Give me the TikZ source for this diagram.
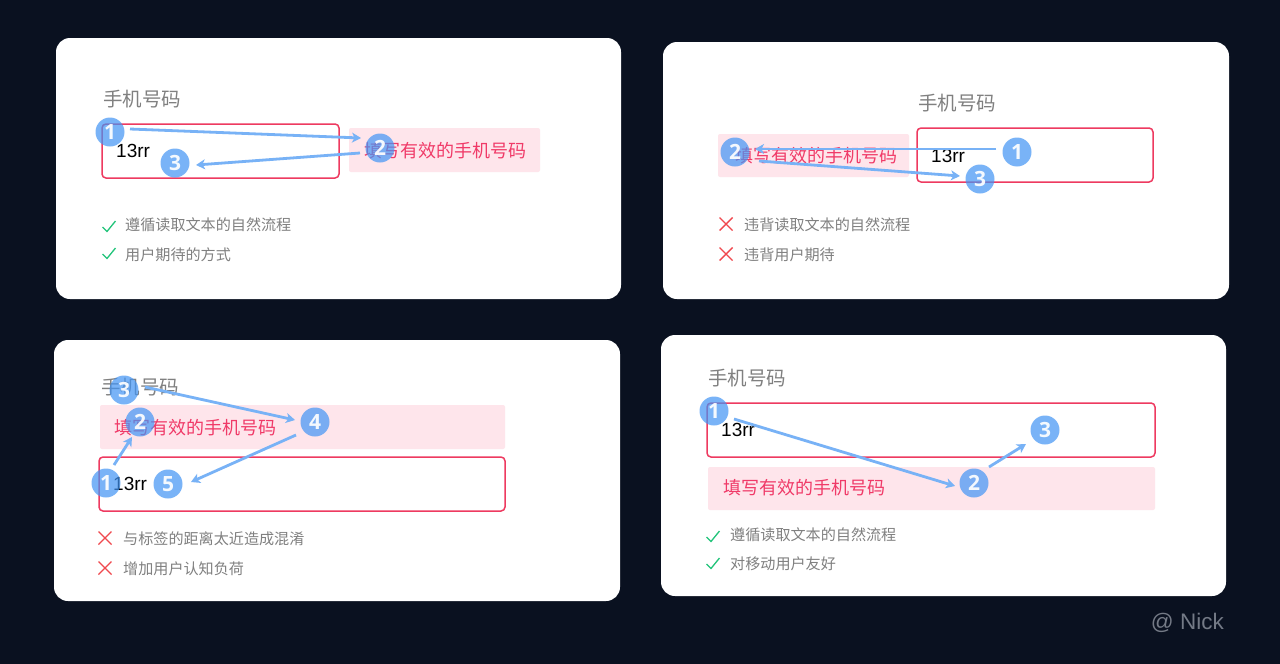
\documentclass[tikz,border=0pt]{standalone}
\usepackage{fontspec}
\usetikzlibrary{calc,arrows.meta}
\setmainfont{Noto Sans CJK SC}
\newfontfamily\latinfont{Liberation Sans}
\newfontfamily\numfont{Open Sans}
\definecolor{bgdark}{HTML}{0A1120}
\definecolor{inputred}{HTML}{EE3A60}
\definecolor{errfill}{HTML}{FEE5EB}
\definecolor{errtext}{HTML}{F03A68}
\definecolor{mutetext}{HTML}{808080}
\definecolor{markblue}{HTML}{4194F5}
\definecolor{flowblue}{HTML}{78B2F6}
\definecolor{okgreen}{HTML}{22C47A}
\definecolor{badred}{HTML}{F0484E}
\definecolor{nickgray}{HTML}{747A86}
\tikzset{
  card/.style={fill=white,rounded corners=14pt,draw=none},
  inputbox/.style={draw=inputred,line width=1.5pt,fill=white,rounded corners=4pt},
  errbox/.style={fill=errfill,rounded corners=2pt,draw=none},
  labeltext/.style={anchor=west,inner sep=0pt,text=mutetext,font=\fontsize{19.5}{20}\selectfont},
  errtxt/.style={anchor=west,inner sep=0pt,text=errtext,font=\fontsize{18}{18}\selectfont},
  valtxt/.style={anchor=west,inner sep=0pt,text=black,font=\latinfont\fontsize{19}{20}\selectfont},
  notetxt/.style={anchor=west,inner sep=0pt,text=mutetext,font=\fontsize{15.1}{15}\selectfont},
  marker/.style={circle,minimum size=29pt,inner sep=0pt,fill=markblue,fill opacity=.7,text opacity=.92,text=white,font=\numfont\bfseries\fontsize{21}{21}\selectfont},
  flow/.style={draw=flowblue,line width=2.8pt,-{Stealth[length=9pt,width=10pt,inset=2.5pt]}},
  okmark/.style={draw=okgreen,line width=1.3pt},
  badmark/.style={draw=badred,line width=1.4pt},
}
\newcommand{\okat}[1]{\draw[okmark] ($(#1)+(-6.5,1)$) -- ($(#1)+(-2,5.5)$) -- ($(#1)+(6.5,-5)$);}
\newcommand{\badat}[1]{\draw[badmark] ($(#1)+(-6.5,-6.5)$) -- ($(#1)+(6.5,6.5)$) ($(#1)+(6.5,-6.5)$) -- ($(#1)+(-6.5,6.5)$);}
\begin{document}
\begin{tikzpicture}[x=1pt,y=-1pt]
\useasboundingbox (0,0) rectangle (1280,664);
\fill[bgdark] (0,0) rectangle (1280,664);
% Panel 1
\path[card] (56,38) rectangle (621,299);
\node[labeltext] (l1) at (103,99.5) {手机号码};
\path[inputbox] (102,124) rectangle (339,178);
\path[errbox] (349,128) rectangle (540,172);
\node[valtxt] (v1) at (116,151) {13rr};
\node[errtxt] (e1) at (364,150.5) {填写有效的手机号码};
\node[marker] (a1) at (110,132) {1};
\node[marker] (a2) at (380,148) {2};
\node[marker] (a3) at (175,163) {3};
\draw[flow] ($(a1)+(20,-3)$) -- ($(a2)+(-19,-10)$);
\draw[flow] ($(a2)+(-20,5)$) -- ($(a3)+(21,2)$);
\coordinate (ck11) at (109,226); \okat{ck11}
\coordinate (ck12) at (109,253); \okat{ck12}
\node[notetxt] (n11) at (125,224.5) {遵循读取文本的自然流程};
\node[notetxt] (n12) at (125,254.5) {用户期待的方式};
% Panel 2
\path[card] (663,42) rectangle (1229,299);
\node[labeltext] (l2) at (918,103.5) {手机号码};
\path[inputbox] (917,128) rectangle (1153,182);
\path[errbox] (718,134) rectangle (909,177);
\node[valtxt] (v2) at (931,156) {13rr};
\node[errtxt] (e2) at (735,155.5) {填写有效的手机号码};
\node[marker] (b1) at (1017,152) {1};
\node[marker] (b2) at (735,152) {2};
\node[marker] (b3) at (980,179) {3};
\draw[flow] ($(b1)+(-21,-3)$) -- ($(b2)+(20,-3)$);
\draw[flow] ($(b2)+(24,9)$) -- ($(b3)+(-20,-3)$);
\coordinate (ck21) at (726,224); \badat{ck21}
\coordinate (ck22) at (726,254); \badat{ck22}
\node[notetxt] (n21) at (744,224.5) {违背读取文本的自然流程};
\node[notetxt] (n22) at (744,254.5) {违背用户期待};
% Panel 3
\path[card] (54,340) rectangle (620,601);
\node[labeltext] (l3) at (101,387.5) {手机号码};
\path[errbox] (100,405) rectangle (505,449);
\path[inputbox] (99,457) rectangle (505,511);
\node[valtxt] (v3) at (113,484) {13rr};
\node[errtxt] (e3) at (114,427.5) {填写有效的手机号码};
\node[marker] (c1) at (106,483) {1};
\node[marker] (c2) at (140,422) {2};
\node[marker] (c3) at (124,390) {3};
\node[marker] (c4) at (315,422) {4};
\node[marker] (c5) at (168,484) {5};
\draw[flow] ($(c1)+(8,-18)$) -- ($(c2)+(-8,15)$);
\draw[flow] ($(c3)+(21,-3)$) -- ($(c4)+(-20,-2)$);
\draw[flow] ($(c4)+(-19,13)$) -- ($(c5)+(23,-2)$);
\coordinate (ck31) at (105,538); \badat{ck31}
\coordinate (ck32) at (105,568); \badat{ck32}
\node[notetxt] (n31) at (123,538.5) {与标签的距离太近造成混淆};
\node[notetxt] (n32) at (123,568.5) {增加用户认知负荷};
% Panel 4
\path[card] (661,335) rectangle (1226,596);
\node[labeltext] (l4) at (708,378.5) {手机号码};
\path[inputbox] (707,403) rectangle (1155,457);
\path[errbox] (708,467) rectangle (1155,510);
\node[valtxt] (v4) at (721,430) {13rr};
\node[errtxt] (e4) at (723,487.5) {填写有效的手机号码};
\node[marker] (d1) at (714,411) {1};
\node[marker] (d2) at (974,483) {2};
\node[marker] (d3) at (1045,430) {3};
\draw[flow] ($(d1)+(20,8)$) -- ($(d2)+(-19,3)$);
\draw[flow] ($(d2)+(15,-16)$) -- ($(d3)+(-19,14)$);
\coordinate (ck41) at (713,536); \okat{ck41}
\coordinate (ck42) at (713,563); \okat{ck42}
\node[notetxt] (n41) at (730,534.5) {遵循读取文本的自然流程};
\node[notetxt] (n42) at (730,563.5) {对移动用户友好};
% Credit
\node[anchor=east,inner sep=0pt,text=nickgray,font=\latinfont\fontsize{22.5}{22}\selectfont] (nick) at (1224,623) {@ Nick};
\end{tikzpicture}
\end{document}
